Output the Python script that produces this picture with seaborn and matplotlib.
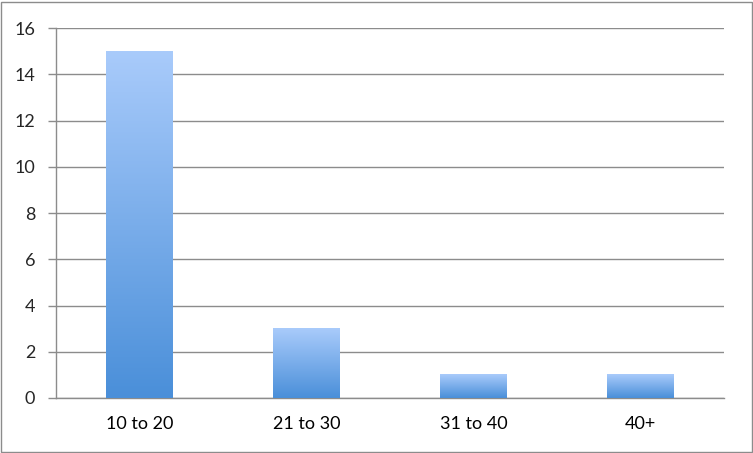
import numpy as np
import pandas as pd
import matplotlib
matplotlib.use("Agg")
import matplotlib.pyplot as plt
from matplotlib.colors import LinearSegmentedColormap
from matplotlib.patches import Rectangle
import seaborn as sns

sns.set_style("white")
plt.rcParams['font.family'] = ['Lato', 'DejaVu Sans']

age_groups = ["10 to 20", "21 to 30", "31 to 40", "40+"]
counts = [15, 3, 1, 1]

df = pd.DataFrame({"group": age_groups, "count": counts})

fig = plt.figure(figsize=(7.53, 4.53), dpi=100)
ax = fig.add_axes([56 / 753, 55 / 453, 668 / 753, 370 / 453])

sns.barplot(data=df, x="group", y="count", width=0.4, ax=ax, color="#6fa6e6")

# excel-like vertical gradient per bar
grad = LinearSegmentedColormap.from_list("bar", ["#4a8fd9", "#a9cbfb"])
g = np.linspace(0, 1, 256).reshape(-1, 1)
for p in ax.patches:
    x0, y0 = p.get_x(), p.get_y()
    w, h = p.get_width(), p.get_height()
    ax.imshow(g, cmap=grad, origin="lower", aspect="auto",
              extent=[x0, x0 + w, y0, y0 + h], zorder=3)
    p.set_facecolor("none")
    p.set_edgecolor("none")

ax.set_xlim(-0.5, 3.5)
ax.set_ylim(0, 16)
ax.set_yticks(range(0, 17, 2))
ax.yaxis.grid(True, color="#8c8c8c", linewidth=1)
ax.set_axisbelow(True)

ax.set_xticks([-0.5, 0.5, 1.5, 2.5, 3.5])
ax.set_xticklabels([])
ax.set_xticks(range(len(age_groups)), minor=True)
ax.set_xticklabels(age_groups, minor=True)
ax.tick_params(axis="x", which="major", length=6, color="#8c8c8c", width=1)
ax.tick_params(axis="x", which="minor", length=0, pad=13, labelsize=13, labelcolor="black")
ax.tick_params(axis="y", length=6, color="#8c8c8c", width=1, labelsize=13, pad=9, left=True)

ax.set_xlabel("")
ax.set_ylabel("")
for s in ["top", "right"]:
    ax.spines[s].set_visible(False)
for s in ["left", "bottom"]:
    ax.spines[s].set_color("#8c8c8c")
    ax.spines[s].set_linewidth(1)

fig.patches.append(Rectangle((1 / 753, 1 / 453), 751 / 753, 450 / 453,
                             transform=fig.transFigure, fill=False,
                             edgecolor="#8c8c8c", linewidth=1))

fig.savefig("out.png", dpi=100)
